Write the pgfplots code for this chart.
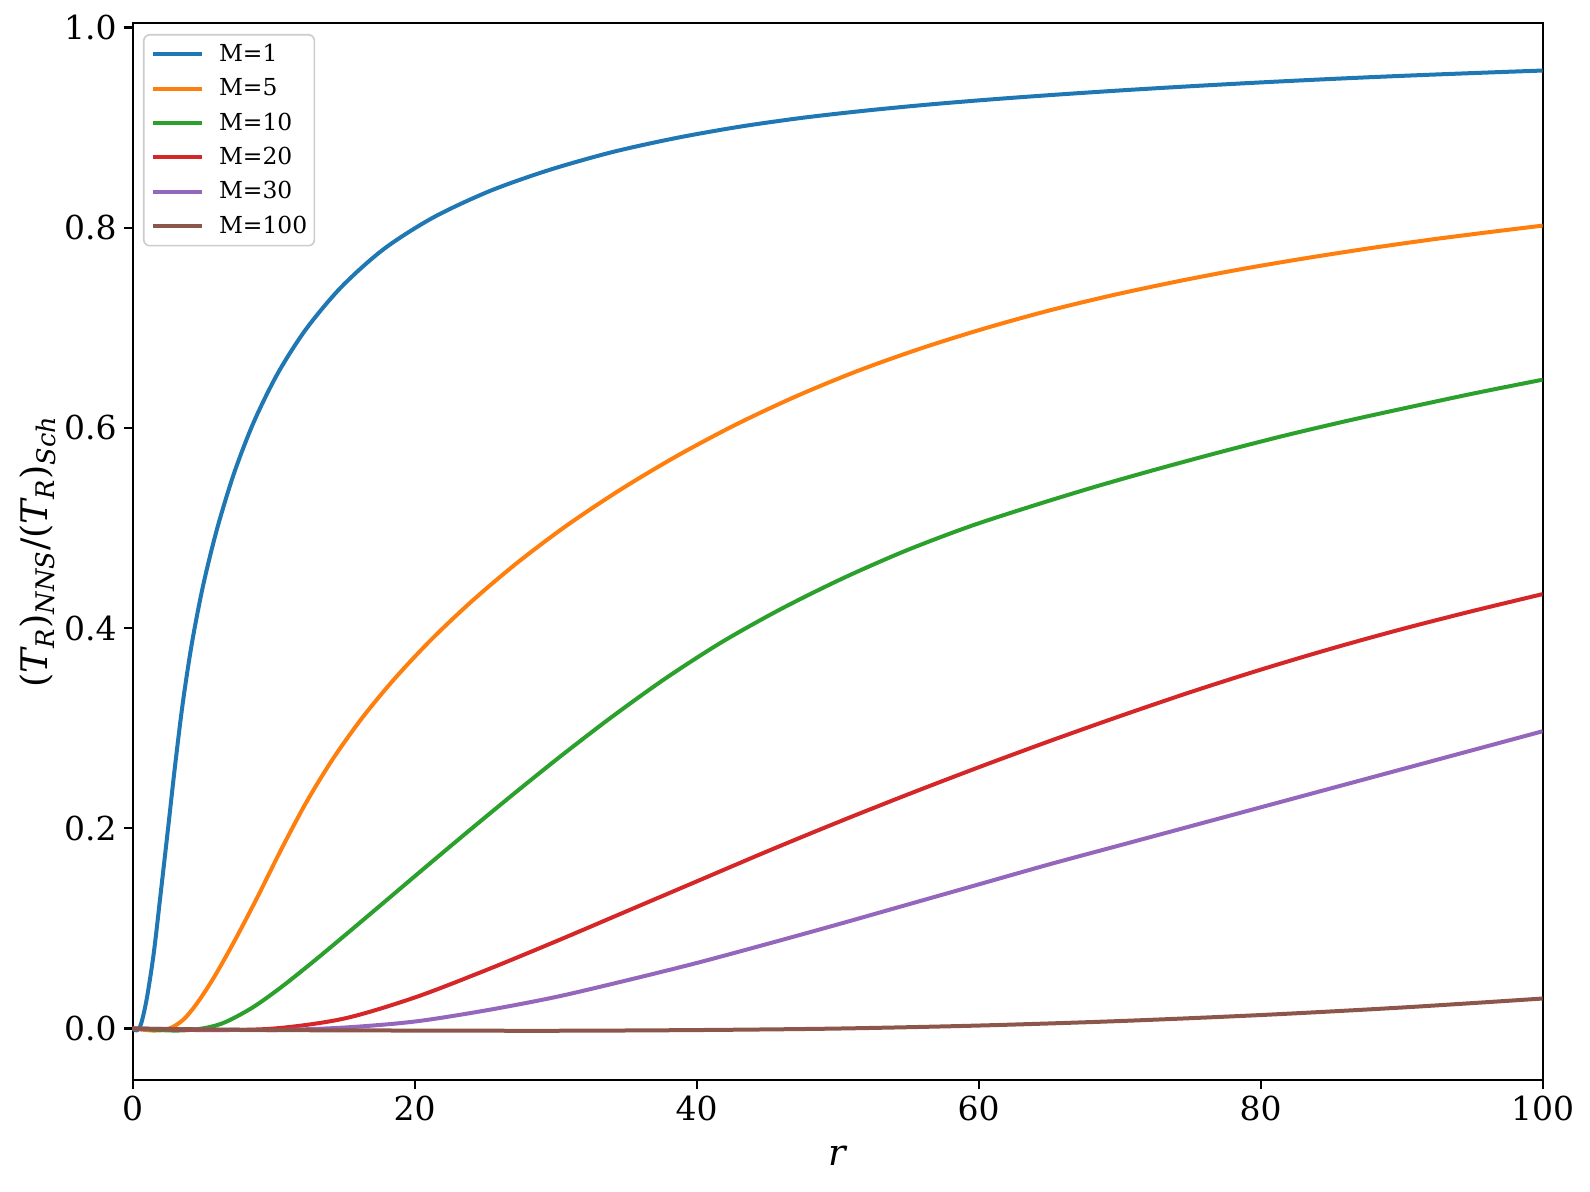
\documentclass[border=0pt]{standalone}
\usepackage{fontspec}
\setmainfont{DejaVu Serif}
\usepackage{amsmath}
\usepackage{pgfplots}
\pgfplotsset{compat=1.18}
\definecolor{c1}{HTML}{1F77B4}
\definecolor{c2}{HTML}{FF7F0E}
\definecolor{c3}{HTML}{2CA02C}
\definecolor{c4}{HTML}{D62728}
\definecolor{c5}{HTML}{9467BD}
\definecolor{c6}{HTML}{8C564B}
\newcommand{\iT}[1]{\text{\itshape #1}}
\pgfplotsset{curve/.style={#1, line width=2pt, line join=round, smooth, tension=0.5}}
\begin{document}
\begin{tikzpicture}
\useasboundingbox (0,0) rectangle (795pt,595.5pt);
\begin{axis}[
  at={(66.35pt,55.5pt)}, anchor=south west,
  scale only axis, width=705pt, height=528.5pt,
  xmin=0, xmax=100, ymin=-0.0514, ymax=1.0045,
  xtick={0,20,40,60,80,100},
  ytick={0,0.2,0.4,0.6,0.8,1.0},
  xtick pos=bottom, ytick pos=left,
  tick align=outside, major tick length=4.5pt,
  tick style={line width=1.1pt, black},
  axis line style={line width=1.1pt},
  /pgf/number format/assume math mode=true,
  yticklabel style={/pgf/number format/.cd, fixed, fixed zerofill, precision=1},
  tick label style={font=\fontsize{16.5}{19.8}\selectfont},
  xlabel={\textit{r}},
  ylabel={$\text{(}\iT{T}_{\iT{R}}\text{)}_{\iT{NNS}}\text{/(}\iT{T}_{\iT{R}}\text{)}_{\iT{Sch}}$},
  label style={font=\fontsize{18.3}{22}\selectfont},
  xlabel style={at={(axis description cs:0.5,-0.072)}, anchor=center},
  ylabel style={at={(axis description cs:-0.0675,0.5)}, anchor=center},
  legend style={at={(0,1)}, anchor=north west, xshift=5.15pt, yshift=-5.5pt,
    draw=black!20, line width=0.8pt, rounded corners=3pt, fill=white,
    font=\fontsize{11.7}{14}\selectfont,
    inner xsep=3.6pt, inner ysep=4.75pt, row sep=7pt, column sep=7.5pt,
    nodes={inner sep=0pt}},
  legend cell align=left,
  legend image code/.code={\draw[#1, line width=2pt] (0pt,0pt) -- (24.5pt,0pt);},
]
\addplot[curve=c1] coordinates {(0,0) (0.3,-0.002) (0.6,0.005) (1.0,0.030) (1.5,0.076) (2.0,0.137) (2.5,0.199) (3.0,0.262) (3.55,0.325) (4.2,0.385) (5.0,0.443) (6.0,0.500) (7.2,0.5552) (8.6,0.6063) (10.3,0.6548) (12.3,0.6988) (14.8,0.7408) (17.8,0.7786) (21.3,0.8101) (25.3,0.8365) (29.5,0.8575) (34,0.8755) (38.5,0.8895) (43,0.9008) (47.5,0.9098) (52,0.917) (56.5,0.9231) (61,0.9283) (65.5,0.9329) (70,0.9371) (74.5,0.9409) (79,0.9444) (83.5,0.9476) (88,0.9505) (92.5,0.9531) (97,0.9555) (100,0.957)};
\addlegendentry{M=1}
\addplot[curve=c2] coordinates {(0,0) (1.5,-0.002) (2.6,0) (3.6,0.009) (4.6,0.026) (5.8,0.052) (7.2,0.087) (8.8,0.130) (10.5,0.178) (12.3,0.2257) (14.2,0.2694) (16.3,0.3108) (18.6,0.3499) (21.2,0.3889) (24.1,0.4275) (27.3,0.4656) (30.8,0.5027) (34.6,0.5384) (38.6,0.572) (42.8,0.6035) (47.1,0.6319) (51.5,0.6574) (56,0.6799) (60.5,0.6997) (65,0.7173) (69.5,0.7326) (74,0.7461) (78.5,0.7583) (83,0.7691) (87.5,0.779) (92,0.788) (96.5,0.7961) (100,0.8021)};
\addlegendentry{M=5}
\addplot[curve=c3] coordinates {(0,0) (3,-0.002) (4.9,0) (6.5,0.006) (8.5,0.021) (10.5,0.041) (12.7,0.0656) (15.2,0.0949) (17.9,0.127) (20.8,0.1616) (23.9,0.1982) (27.1,0.2353) (30.4,0.2726) (34,0.3115) (37.8,0.3499) (41.8,0.3862) (46,0.4193) (50.4,0.4500) (54.8,0.4772) (59.3,0.5013) (63.8,0.522) (68.3,0.5414) (72.8,0.5594) (77.3,0.5765) (81.8,0.5927) (86.3,0.6076) (90.8,0.6215) (95.3,0.635) (100,0.6482)};
\addlegendentry{M=10}
\addplot[curve=c4] coordinates {(0,0) (5,-0.0015) (10,0) (15,0.010) (20,0.031) (25,0.058) (30,0.087) (35,0.117) (40,0.147) (45,0.177) (50,0.206) (55,0.234) (60,0.261) (65,0.287) (70,0.312) (75,0.336) (80,0.3585) (85,0.3795) (90,0.399) (95,0.417) (100,0.434)};
\addlegendentry{M=20}
\addplot[curve=c5] coordinates {(0,0) (5,-0.001) (10,-0.0015) (15,0.001) (20,0.007) (25,0.018) (30,0.0315) (35,0.048) (40,0.0655) (45,0.0845) (50,0.104) (55,0.124) (60,0.144) (65,0.164) (70,0.183) (75,0.202) (80,0.221) (85,0.240) (90,0.259) (95,0.278) (100,0.297)};
\addlegendentry{M=30}
\addplot[curve=c6] coordinates {(0,0) (10,-0.0015) (20,-0.002) (30,-0.0022) (40,-0.0015) (50,0) (60,0.003) (70,0.0075) (80,0.0135) (90,0.021) (100,0.030)};
\addlegendentry{M=100}
\end{axis}
\end{tikzpicture}
\end{document}
